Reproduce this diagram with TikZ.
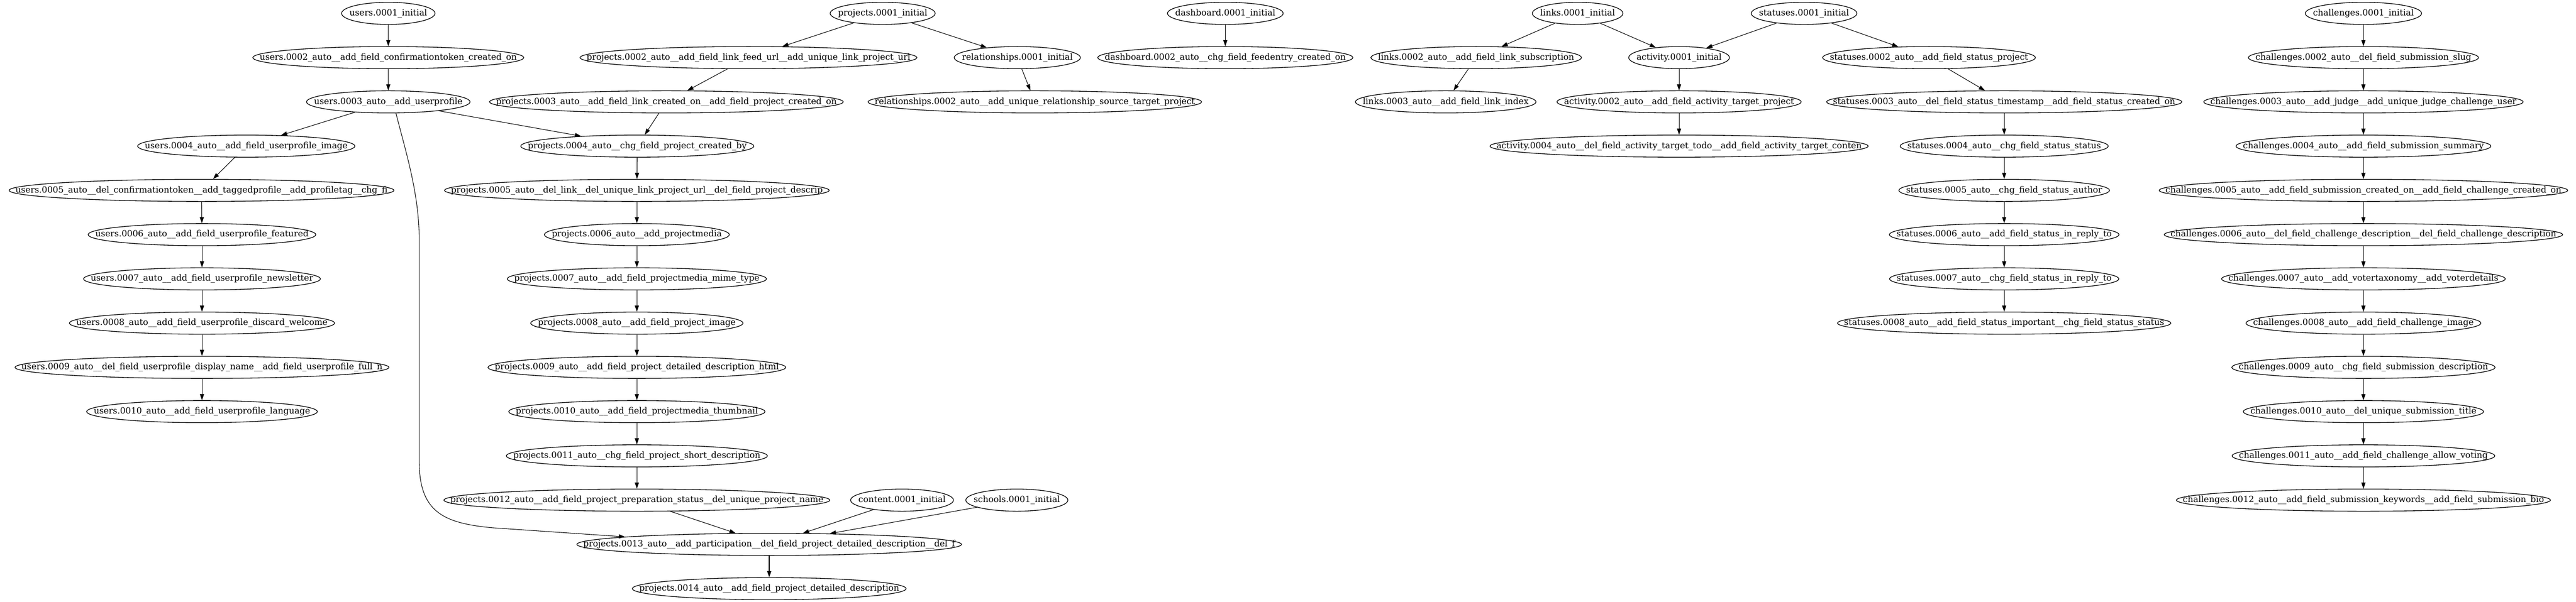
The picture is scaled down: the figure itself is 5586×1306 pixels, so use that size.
\documentclass[tikz,border=0pt]{standalone}
\usepackage{fontspec}
\newfontfamily\dvs{DejaVu Serif}
\usetikzlibrary{shapes.geometric,arrows.meta}
\newcommand{\M}[3]{\node[mig] (#1) at (#2) {\makebox[0.70\width]{#3}};}
\begin{document}
\begin{tikzpicture}[x=0.75pt,y=-0.75pt,
  mig/.style={draw, ellipse, line width=1.1pt, inner xsep=9.5pt, inner ysep=2pt,
    minimum height=36pt, minimum width=54pt,
    font=\dvs\fontsize{14pt}{16pt}\selectfont},
  arr/.style={-{Triangle[length=10pt,width=6.7pt]}, line width=0.9pt}]
\useasboundingbox (0,0) rectangle (5586,1306);
% users
\M{u1}{842,29}{users.0001\_initial}
\M{u2}{842,125}{users.0002\_auto\_\_add\_field\_confirmationtoken\_created\_on}
\M{u3}{842,221}{users.0003\_auto\_\_add\_userprofile}
\M{u4}{534,317}{users.0004\_auto\_\_add\_field\_userprofile\_image}
\M{u5}{437,413}{users.0005\_auto\_\_del\_confirmationtoken\_\_add\_taggedprofile\_\_add\_profiletag\_\_chg\_fi}
\M{u6}{438,509}{users.0006\_auto\_\_add\_field\_userprofile\_featured}
\M{u7}{438,605}{users.0007\_auto\_\_add\_field\_userprofile\_newsletter}
\M{u8}{438,701}{users.0008\_auto\_\_add\_field\_userprofile\_discard\_welcome}
\M{u9}{438,797}{users.0009\_auto\_\_del\_field\_userprofile\_display\_name\_\_add\_field\_userprofile\_full\_n}
\M{u10}{438,893}{users.0010\_auto\_\_add\_field\_userprofile\_language}
% projects
\M{p1}{1914,29}{projects.0001\_initial}
\M{p2}{1623,125}{projects.0002\_auto\_\_add\_field\_link\_feed\_url\_\_add\_unique\_link\_project\_url}
\M{p3}{1445,221}{projects.0003\_auto\_\_add\_field\_link\_created\_on\_\_add\_field\_project\_created\_on}
\M{p4}{1382,317}{projects.0004\_auto\_\_chg\_field\_project\_created\_by}
\M{p5}{1381,413}{projects.0005\_auto\_\_del\_link\_\_del\_unique\_link\_project\_url\_\_del\_field\_project\_descrip}
\M{p6}{1381,509}{projects.0006\_auto\_\_add\_projectmedia}
\M{p7}{1381,605}{projects.0007\_auto\_\_add\_field\_projectmedia\_mime\_type}
\M{p8}{1381,701}{projects.0008\_auto\_\_add\_field\_project\_image}
\M{p9}{1381,797}{projects.0009\_auto\_\_add\_field\_project\_detailed\_description\_html}
\M{p10}{1381,893}{projects.0010\_auto\_\_add\_field\_projectmedia\_thumbnail}
\M{p11}{1381,989}{projects.0011\_auto\_\_chg\_field\_project\_short\_description}
\M{p12}{1381,1085}{projects.0012\_auto\_\_add\_field\_project\_preparation\_status\_\_del\_unique\_project\_name}
\M{p13}{1668,1181}{projects.0013\_auto\_\_add\_participation\_\_del\_field\_project\_detailed\_description\_\_del\_f}
\M{p14}{1668,1277}{projects.0014\_auto\_\_add\_field\_project\_detailed\_description}
\M{co1}{1956,1085}{content.0001\_initial}
\M{sc1}{2205,1085}{schools.0001\_initial}
% relationships, dashboard
\M{r1}{2206,125}{relationships.0001\_initial}
\M{r2}{2244,221}{relationships.0002\_auto\_\_add\_unique\_relationship\_source\_target\_project}
\M{d1}{2657,29}{dashboard.0001\_initial}
\M{d2}{2657,125}{dashboard.0002\_auto\_\_chg\_field\_feedentry\_created\_on}
% links, activity, statuses
\M{l1}{3421,29}{links.0001\_initial}
\M{l2}{3201,125}{links.0002\_auto\_\_add\_field\_link\_subscription}
\M{l3}{3135,221}{links.0003\_auto\_\_add\_field\_link\_index}
\M{s1}{3912,29}{statuses.0001\_initial}
\M{a1}{3641,125}{activity.0001\_initial}
\M{a2}{3641,221}{activity.0002\_auto\_\_add\_field\_activity\_target\_project}
\M{a4}{3641,317}{activity.0004\_auto\_\_del\_field\_activity\_target\_todo\_\_add\_field\_activity\_target\_conten}
\M{s2}{4183,125}{statuses.0002\_auto\_\_add\_field\_status\_project}
\M{s3}{4346,221}{statuses.0003\_auto\_\_del\_field\_status\_timestamp\_\_add\_field\_status\_created\_on}
\M{s4}{4346,317}{statuses.0004\_auto\_\_chg\_field\_status\_status}
\M{s5}{4346,413}{statuses.0005\_auto\_\_chg\_field\_status\_author}
\M{s6}{4346,509}{statuses.0006\_auto\_\_add\_field\_status\_in\_reply\_to}
\M{s7}{4346,605}{statuses.0007\_auto\_\_chg\_field\_status\_in\_reply\_to}
\M{s8}{4346,701}{statuses.0008\_auto\_\_add\_field\_status\_important\_\_chg\_field\_status\_status}
% challenges
\M{c1}{5125,29}{challenges.0001\_initial}
\M{c2}{5125,125}{challenges.0002\_auto\_\_del\_field\_submission\_slug}
\M{c3}{5125,221}{challenges.0003\_auto\_\_add\_judge\_\_add\_unique\_judge\_challenge\_user}
\M{c4}{5125,317}{challenges.0004\_auto\_\_add\_field\_submission\_summary}
\M{c5}{5125,413}{challenges.0005\_auto\_\_add\_field\_submission\_created\_on\_\_add\_field\_challenge\_created\_on}
\M{c6}{5125,509}{challenges.0006\_auto\_\_del\_field\_challenge\_description\_\_del\_field\_challenge\_description}
\M{c7}{5125,605}{challenges.0007\_auto\_\_add\_votertaxonomy\_\_add\_voterdetails}
\M{c8}{5125,701}{challenges.0008\_auto\_\_add\_field\_challenge\_image}
\M{c9}{5125,797}{challenges.0009\_auto\_\_chg\_field\_submission\_description}
\M{c10}{5125,893}{challenges.0010\_auto\_\_del\_unique\_submission\_title}
\M{c11}{5125,989}{challenges.0011\_auto\_\_add\_field\_challenge\_allow\_voting}
\M{c12}{5125,1085}{challenges.0012\_auto\_\_add\_field\_submission\_keywords\_\_add\_field\_submission\_bio}
% edges
\foreach \a/\b in {u1/u2,u2/u3,u3/u4,u3/p4,u4/u5,u5/u6,u6/u7,u7/u8,u8/u9,u9/u10,
  p1/p2,p1/r1,p2/p3,p3/p4,p4/p5,p5/p6,p6/p7,p7/p8,p8/p9,p9/p10,p10/p11,p11/p12,
  p12/p13,p13/p14,co1/p13,sc1/p13,r1/r2,d1/d2,
  l1/l2,l1/a1,l2/l3,s1/a1,s1/s2,a1/a2,a2/a4,s2/s3,s3/s4,s4/s5,s5/s6,s6/s7,s7/s8,
  c1/c2,c2/c3,c3/c4,c4/c5,c5/c6,c6/c7,c7/c8,c8/c9,c9/c10,c10/c11,c11/c12}
  \draw[arr] (\a) -- (\b);
% long curved edge users.0003 -> projects.0013
\coordinate (q1) at (880,330);
\coordinate (q2) at (909,420);
\coordinate (k1) at (909,520);
\coordinate (k2) at (909,1000);
\coordinate (q3) at (909,1110);
\coordinate (q4) at (960,1135);
\coordinate (k3) at (1068,1145);
\draw[arr] (u3.-56) .. controls (q1) and (q2) .. (k1) -- (k2)
  .. controls (q3) and (q4) .. (k3) -- (p13.177.5);
\end{tikzpicture}
\end{document}
